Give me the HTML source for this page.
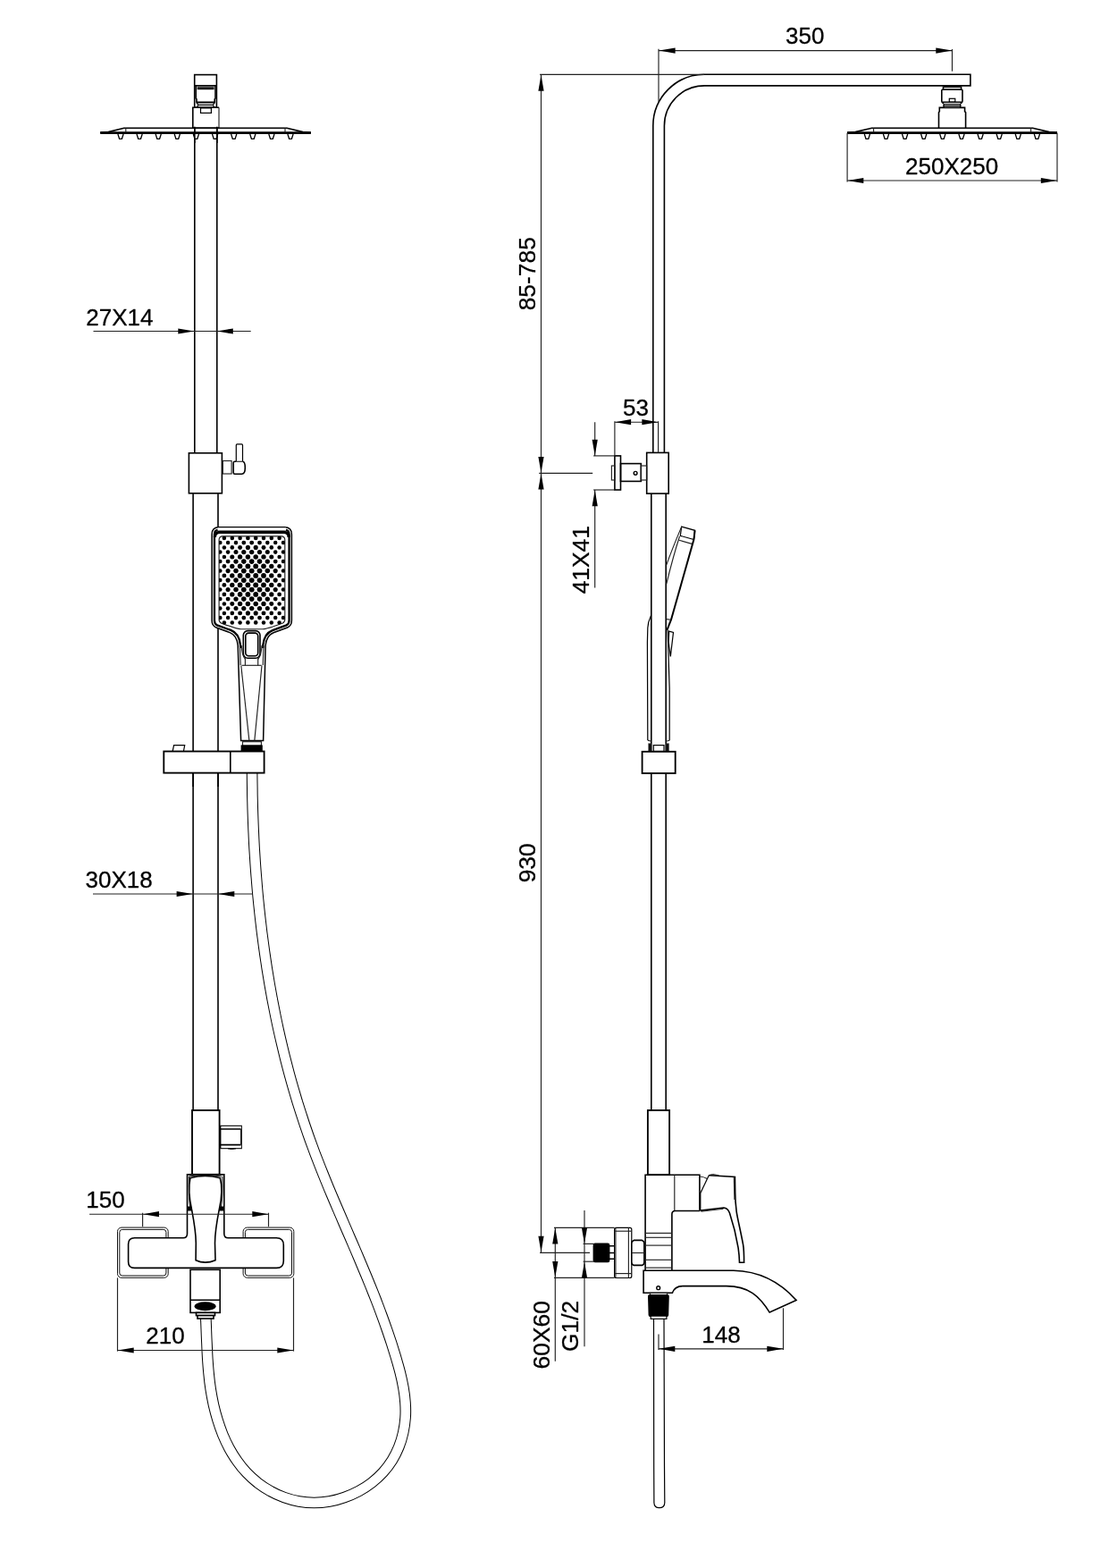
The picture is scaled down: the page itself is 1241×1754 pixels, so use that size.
<!DOCTYPE html>
<html><head><meta charset="utf-8"><title>Shower system dimensions</title>
<style>
html,body{margin:0;padding:0;background:#fff;}
body{width:1241px;height:1754px;overflow:hidden;}
svg{display:block;filter:grayscale(1);}
.k{fill:none;stroke:#000;stroke-width:1.6;}
.k2{fill:none;stroke:#000;stroke-width:2;}
.k3{fill:none;stroke:#000;stroke-width:1.85;}
.k4{fill:none;stroke:#000;stroke-width:2.6;}
.t{fill:none;stroke:#222;stroke-width:1.15;}
.w{fill:none;stroke:#111;stroke-width:1;}
.t2{fill:none;stroke:#000;stroke-width:1.2;}
.n{fill:#fff;stroke:#000;stroke-width:1.3;}
.a{fill:#000;stroke:none;}
text{font-family:"Liberation Sans",Arial,sans-serif;font-size:26px;fill:#000;stroke:#000;stroke-width:0.3px;stroke-linejoin:round;}
text.v{font-size:26.4px;}
</style></head><body>
<svg width="1241" height="1754" viewBox="0 0 1241 1754">
<defs><path id="hose" d="M282.1,864.1C282.1,869.8 282.2,875.4 282.3,881.0C282.3,886.7 282.4,892.3 282.6,897.9C282.7,903.6 282.9,909.2 283.1,914.9C283.3,920.5 283.5,926.2 283.8,931.9C284.0,937.5 284.3,943.2 284.6,948.8C285.0,954.5 285.3,960.2 285.7,965.8C286.1,971.5 286.5,977.1 287.0,982.8C287.4,988.5 287.9,994.1 288.4,999.8C288.9,1005.4 289.5,1011.1 290.1,1016.7C290.7,1022.4 291.3,1028.0 292.0,1033.7C292.6,1039.3 293.3,1045.0 294.1,1050.6C294.8,1056.2 295.6,1061.9 296.4,1067.5C297.2,1073.1 298.1,1078.7 298.9,1084.3C299.8,1090.0 300.8,1095.6 301.7,1101.2C302.7,1106.8 303.7,1112.3 304.7,1117.9C305.8,1123.5 306.9,1129.1 308.0,1134.6C309.1,1140.2 310.3,1145.7 311.5,1151.3C312.7,1156.8 314.0,1162.4 315.3,1167.9C316.6,1173.4 317.9,1178.9 319.3,1184.4C320.7,1189.9 322.1,1195.3 323.6,1200.8C325.1,1206.3 326.6,1211.7 328.2,1217.2C329.8,1222.6 331.4,1228.0 333.0,1233.4C334.7,1238.8 336.4,1244.2 338.2,1249.6C339.9,1255.0 341.7,1260.3 343.6,1265.7C345.4,1271.0 347.3,1276.3 349.3,1281.6C351.2,1286.9 353.2,1292.2 355.3,1297.5C357.3,1302.7 359.4,1308.0 361.5,1313.2C363.6,1318.5 365.8,1323.7 367.9,1328.9C370.1,1334.1 372.3,1339.3 374.5,1344.5C376.7,1349.7 379.0,1354.9 381.2,1360.1C383.4,1365.3 385.7,1370.5 387.9,1375.7C390.2,1380.9 392.4,1386.1 394.7,1391.3C396.9,1396.5 399.2,1401.8 401.4,1407.0C403.6,1412.2 405.8,1417.4 408.0,1422.7C410.2,1427.9 412.3,1433.1 414.5,1438.4C416.6,1443.7 418.7,1448.9 420.8,1454.2C422.8,1459.5 424.9,1464.9 426.8,1470.2C428.8,1475.5 430.7,1480.9 432.6,1486.3C434.5,1491.7 436.3,1497.1 438.1,1502.5C439.8,1507.9 441.5,1513.4 443.2,1518.9C444.8,1524.4 446.4,1529.9 447.8,1535.5C449.2,1541.0 450.4,1546.6 451.4,1552.2C452.4,1557.8 453.1,1563.4 453.5,1569.0C453.9,1574.6 454.0,1580.3 453.6,1585.9C453.2,1591.5 452.4,1597.1 451.2,1602.5C450.0,1608.0 448.4,1613.4 446.3,1618.6C444.2,1623.8 441.7,1628.8 438.8,1633.6C435.9,1638.3 432.5,1642.8 428.6,1647.0C424.8,1651.2 420.6,1655.0 416.0,1658.6C411.5,1662.1 406.6,1665.2 401.5,1668.0C396.4,1670.7 391.0,1673.1 385.5,1675.0C380.0,1677.0 374.4,1678.5 368.7,1679.5C363.0,1680.5 357.2,1681.0 351.5,1681.0C345.8,1681.0 340.1,1680.5 334.5,1679.5C328.9,1678.5 323.4,1677.0 318.1,1675.1C312.7,1673.1 307.5,1670.8 302.6,1668.0C297.6,1665.3 292.9,1662.1 288.4,1658.7C284.0,1655.2 279.8,1651.4 276.0,1647.4C272.1,1643.3 268.6,1639.0 265.4,1634.4C262.1,1629.8 259.2,1625.0 256.5,1620.1C253.8,1615.1 251.4,1609.9 249.2,1604.6C247.1,1599.3 245.2,1593.9 243.5,1588.4C241.8,1582.8 240.3,1577.2 239.0,1571.6C237.8,1565.9 236.7,1560.2 235.8,1554.5C234.9,1548.8 234.2,1543.1 233.7,1537.4C233.1,1531.8 232.7,1526.1 232.3,1520.4C232.0,1514.8 231.7,1509.1 231.5,1503.5C231.2,1497.9 231.0,1492.3 230.8,1486.8C230.6,1481.2 230.4,1475.7 230.1,1470.3" fill="none"/></defs>
<use href="#hose" stroke="#000" stroke-width="12.6"/>
<use href="#hose" stroke="#fff" stroke-width="10.6"/>
<line class="k" x1="217.8" y1="143" x2="217.8" y2="506"/>
<line class="k" x1="242.8" y1="143" x2="242.8" y2="506"/>
<line class="k" x1="216.1" y1="552" x2="216.1" y2="1242"/>
<line class="k" x1="244" y1="552" x2="244" y2="1242"/>
<rect class="k" x="217.7" y="83.6" width="24.7" height="36.6" style="fill:#fff"/>
<line class="k" x1="217.7" y1="95.8" x2="242.4" y2="95.8"/>
<line class="k2" x1="220.6" y1="99.2" x2="239.6" y2="99.2"/>
<line class="t" x1="220.6" y1="97.3" x2="239.6" y2="97.3"/>
<path class="k" d="M219.2,96 L219.2,110 L220,111 L220,114.5 M241,96 L241,110 L240.2,111 L240.2,114.5"/>
<line class="k2" x1="219.5" y1="114.5" x2="240.8" y2="114.5"/>
<line class="t2" x1="221.8" y1="117.4" x2="238.4" y2="117.4"/>
<path class="t2" d="M220,114.5 L221.8,117.4 L220.6,120.2 M240.2,114.5 L238.4,117.4 L239.6,120.2"/>
<path class="k" d="M245,143.3 L215.8,143.3 L215.8,120.2 L245,120.2" style="fill:#fff"/>
<line class="t" x1="245" y1="120.2" x2="245" y2="143.3"/>
<rect class="t2" x="224.5" y="120.9" width="11.9" height="5.5"/>
<path class="k" d="M112.2,148.3 L121.2,147.6 L138.8,143.3 L321,143.3 L338.9,147.6 L347.9,148.3"/>
<line x1="112.2" y1="148.7" x2="347.9" y2="148.7" stroke="#000" stroke-width="2.8"/>
<line class="t" x1="140.8" y1="143.3" x2="140.8" y2="148"/>
<line class="t" x1="319" y1="143.3" x2="319" y2="148"/>
<path class="n" d="M131.9,150 L133.6,155.3 L136.4,155.3 L138.1,150"/>
<path class="n" d="M153.0,150 L154.7,155.3 L157.5,155.3 L159.2,150"/>
<path class="n" d="M174.1,150 L175.8,155.3 L178.6,155.3 L180.3,150"/>
<path class="n" d="M195.2,150 L196.9,155.3 L199.7,155.3 L201.4,150"/>
<path class="n" d="M216.3,150 L218.0,155.3 L220.8,155.3 L222.5,150"/>
<path class="n" d="M237.5,150 L239.2,155.3 L242.0,155.3 L243.7,150"/>
<path class="n" d="M258.6,150 L260.3,155.3 L263.1,155.3 L264.8,150"/>
<path class="n" d="M279.7,150 L281.4,155.3 L284.2,155.3 L285.9,150"/>
<path class="n" d="M300.8,150 L302.5,155.3 L305.3,155.3 L307.0,150"/>
<path class="n" d="M321.9,150 L323.6,155.3 L326.4,155.3 L328.1,150"/>
<line class="k" x1="217.8" y1="141.8" x2="217.8" y2="160"/>
<line class="k" x1="242.8" y1="141.8" x2="242.8" y2="160"/>
<line class="t" x1="104.5" y1="370.5" x2="280.7" y2="370.5"/>
<polygon class="a" points="217.3,370.5 199.3,367.4 199.3,373.6"/>
<polygon class="a" points="242.8,370.5 260.8,367.4 260.8,373.6"/>
<text x="96.3" y="364.4" text-anchor="start">27X14</text>
<rect class="k" x="211.4" y="506.8" width="37.0" height="45.0" style="fill:#fff"/>
<rect class="t" x="249.4" y="515.5" width="9.7" height="14.5"/>
<path class="k" d="M264.3,516.3 L262.7,516.3 Q261.2,516.3 261.2,517.8 L261.2,528.8 Q261.2,530.3 262.7,530.3 L270.5,530.3 Q274.3,530.3 274.3,523.3 Q274.3,516.3 271.5,516.3"/>
<path class="t2" d="M264.3,516.3 L264.3,497.9 Q264.3,496.9 265.3,496.9 L270.5,496.9 Q271.5,496.9 271.5,497.9 L271.5,516.3"/>
<line class="t" x1="264.3" y1="516.3" x2="271.5" y2="516.3"/>
<line class="t" x1="104" y1="1000" x2="283" y2="1000"/>
<polygon class="a" points="215.6,1000 197.6,996.9 197.6,1003.1"/>
<polygon class="a" points="244.3,1000 262.3,996.9 262.3,1003.1"/>
<text x="95.6" y="992.6" text-anchor="start">30X18</text>
<defs><clipPath id="hc"><path d="M269.6,828.6 L266.2,722 C265.4,713.5 262.5,709.6 257.2,707.6 L242,702 Q237.1,700 237.1,694 L237.1,597.7 Q237.1,589.7 245.1,589.7 L318.4,589.7 Q326.4,589.7 326.4,597.7 L326.4,694 Q326.4,700 321.5,702 L306,707.8 C300.8,709.8 298,713.5 297.1,722 L294.6,828.6 Z"/></clipPath><clipPath id="hc2"><rect x="230" y="585" width="105" height="140"/></clipPath></defs>
<path d="M269.6,828.6 L266.2,722 C265.4,713.5 262.5,709.6 257.2,707.6 L242,702 Q237.1,700 237.1,694 L237.1,597.7 Q237.1,589.7 245.1,589.7 L318.4,589.7 Q326.4,589.7 326.4,597.7 L326.4,694 Q326.4,700 321.5,702 L306,707.8 C300.8,709.8 298,713.5 297.1,722 L294.6,828.6 Z" fill="#fff" stroke="none"/>
<g clip-path="url(#hc2)"><g clip-path="url(#hc)"><path d="M269.6,828.6 L266.2,722 C265.4,713.5 262.5,709.6 257.2,707.6 L242,702 Q237.1,700 237.1,694 L237.1,597.7 Q237.1,589.7 245.1,589.7 L318.4,589.7 Q326.4,589.7 326.4,597.7 L326.4,694 Q326.4,700 321.5,702 L306,707.8 C300.8,709.8 298,713.5 297.1,722 L294.6,828.6" fill="none" stroke="#000" stroke-width="8"/><path d="M269.6,828.6 L266.2,722 C265.4,713.5 262.5,709.6 257.2,707.6 L242,702 Q237.1,700 237.1,694 L237.1,597.7 Q237.1,589.7 245.1,589.7 L318.4,589.7 Q326.4,589.7 326.4,597.7 L326.4,694 Q326.4,700 321.5,702 L306,707.8 C300.8,709.8 298,713.5 297.1,722 L294.6,828.6" fill="none" stroke="#fff" stroke-width="3.4"/></g></g>
<path d="M269.6,828.6 L266.2,722 C265.4,713.5 262.5,709.6 257.2,707.6 L242,702 Q237.1,700 237.1,694 L237.1,597.7 Q237.1,589.7 245.1,589.7 L318.4,589.7 Q326.4,589.7 326.4,597.7 L326.4,694 Q326.4,700 321.5,702 L306,707.8 C300.8,709.8 298,713.5 297.1,722 L294.6,828.6 Z" fill="none" stroke="#000" stroke-width="1.5"/>
<path d="M243.5,592.1 L320,592.1" fill="none" stroke="#fff" stroke-width="3"/>
<path d="M240.4,601 Q240.4,595.4 246,595.4 L317.5,595.4 Q323.1,595.4 323.1,601" fill="none" stroke="#000" stroke-width="3.2"/>
<path class="t" d="M268.4,722 L269.2,744 M295,722 L294.2,744"/>
<path class="t" d="M245.1,604 Q245.1,599.9 249.2,599.9 L314.7,599.9 Q318.8,599.9 318.8,604 L318.8,693 Q318.8,696 316,697.2 C303,702 298,703.7 294,703.7 L269.5,703.7 C265.5,703.7 260.5,702 247.8,697.2 Q245.1,696 245.1,693 Z" style="fill:#fff"/>
<g clip-path="url(#pc)"><defs><clipPath id="pc"><path d="M245.1,604 Q245.1,599.9 249.2,599.9 L314.7,599.9 Q318.8,599.9 318.8,604 L318.8,693 Q318.8,696 316,697.2 L300,703 L264,703 L247.8,697.2 Q245.1,696 245.1,693 Z"/></clipPath></defs>
<circle cx="250.9" cy="601.9" r="2.25"/>
<circle cx="259.8" cy="601.9" r="2.25"/>
<circle cx="268.6" cy="601.9" r="2.25"/>
<circle cx="277.4" cy="601.9" r="2.32"/>
<circle cx="286.2" cy="601.9" r="2.32"/>
<circle cx="295.0" cy="601.9" r="2.25"/>
<circle cx="303.8" cy="601.9" r="2.25"/>
<circle cx="312.6" cy="601.9" r="2.25"/>
<circle cx="246.3" cy="607.1" r="2.25"/>
<circle cx="255.1" cy="607.1" r="2.25"/>
<circle cx="264.0" cy="607.1" r="2.29"/>
<circle cx="272.8" cy="607.1" r="2.41"/>
<circle cx="281.7" cy="607.1" r="2.46"/>
<circle cx="290.5" cy="607.1" r="2.42"/>
<circle cx="299.3" cy="607.1" r="2.29"/>
<circle cx="308.2" cy="607.1" r="2.25"/>
<circle cx="317.0" cy="607.1" r="2.25"/>
<circle cx="250.9" cy="612.4" r="2.25"/>
<circle cx="259.8" cy="612.4" r="2.31"/>
<circle cx="268.6" cy="612.4" r="2.48"/>
<circle cx="277.4" cy="612.4" r="2.56"/>
<circle cx="286.2" cy="612.4" r="2.56"/>
<circle cx="295.0" cy="612.4" r="2.48"/>
<circle cx="303.8" cy="612.4" r="2.31"/>
<circle cx="312.6" cy="612.4" r="2.25"/>
<circle cx="246.3" cy="617.6" r="2.25"/>
<circle cx="255.1" cy="617.6" r="2.29"/>
<circle cx="264.0" cy="617.6" r="2.50"/>
<circle cx="272.8" cy="617.6" r="2.63"/>
<circle cx="281.7" cy="617.6" r="2.67"/>
<circle cx="290.5" cy="617.6" r="2.63"/>
<circle cx="299.3" cy="617.6" r="2.51"/>
<circle cx="308.2" cy="617.6" r="2.30"/>
<circle cx="317.0" cy="617.6" r="2.25"/>
<circle cx="250.9" cy="622.9" r="2.25"/>
<circle cx="259.8" cy="622.9" r="2.50"/>
<circle cx="268.6" cy="622.9" r="2.66"/>
<circle cx="277.4" cy="622.9" r="2.75"/>
<circle cx="286.2" cy="622.9" r="2.75"/>
<circle cx="295.0" cy="622.9" r="2.66"/>
<circle cx="303.8" cy="622.9" r="2.50"/>
<circle cx="312.6" cy="622.9" r="2.25"/>
<circle cx="246.3" cy="628.1" r="2.25"/>
<circle cx="255.1" cy="628.1" r="2.44"/>
<circle cx="264.0" cy="628.1" r="2.66"/>
<circle cx="272.8" cy="628.1" r="2.78"/>
<circle cx="281.7" cy="628.1" r="2.83"/>
<circle cx="290.5" cy="628.1" r="2.79"/>
<circle cx="299.3" cy="628.1" r="2.66"/>
<circle cx="308.2" cy="628.1" r="2.45"/>
<circle cx="317.0" cy="628.1" r="2.25"/>
<circle cx="250.9" cy="633.4" r="2.37"/>
<circle cx="259.8" cy="633.4" r="2.62"/>
<circle cx="268.6" cy="633.4" r="2.79"/>
<circle cx="277.4" cy="633.4" r="2.87"/>
<circle cx="286.2" cy="633.4" r="2.87"/>
<circle cx="295.0" cy="633.4" r="2.79"/>
<circle cx="303.8" cy="633.4" r="2.62"/>
<circle cx="312.6" cy="633.4" r="2.37"/>
<circle cx="246.3" cy="638.6" r="2.25"/>
<circle cx="255.1" cy="638.6" r="2.54"/>
<circle cx="264.0" cy="638.6" r="2.75"/>
<circle cx="272.8" cy="638.6" r="2.88"/>
<circle cx="281.7" cy="638.6" r="2.92"/>
<circle cx="290.5" cy="638.6" r="2.88"/>
<circle cx="299.3" cy="638.6" r="2.75"/>
<circle cx="308.2" cy="638.6" r="2.54"/>
<circle cx="317.0" cy="638.6" r="2.25"/>
<circle cx="250.9" cy="643.9" r="2.43"/>
<circle cx="259.8" cy="643.9" r="2.68"/>
<circle cx="268.6" cy="643.9" r="2.85"/>
<circle cx="277.4" cy="643.9" r="2.93"/>
<circle cx="286.2" cy="643.9" r="2.93"/>
<circle cx="295.0" cy="643.9" r="2.85"/>
<circle cx="303.8" cy="643.9" r="2.68"/>
<circle cx="312.6" cy="643.9" r="2.43"/>
<circle cx="246.3" cy="649.1" r="2.27"/>
<circle cx="255.1" cy="649.1" r="2.57"/>
<circle cx="264.0" cy="649.1" r="2.78"/>
<circle cx="272.8" cy="649.1" r="2.91"/>
<circle cx="281.7" cy="649.1" r="2.95"/>
<circle cx="290.5" cy="649.1" r="2.91"/>
<circle cx="299.3" cy="649.1" r="2.78"/>
<circle cx="308.2" cy="649.1" r="2.57"/>
<circle cx="317.0" cy="649.1" r="2.28"/>
<circle cx="250.9" cy="654.4" r="2.43"/>
<circle cx="259.8" cy="654.4" r="2.68"/>
<circle cx="268.6" cy="654.4" r="2.85"/>
<circle cx="277.4" cy="654.4" r="2.93"/>
<circle cx="286.2" cy="654.4" r="2.93"/>
<circle cx="295.0" cy="654.4" r="2.85"/>
<circle cx="303.8" cy="654.4" r="2.68"/>
<circle cx="312.6" cy="654.4" r="2.43"/>
<circle cx="246.3" cy="659.6" r="2.25"/>
<circle cx="255.1" cy="659.6" r="2.53"/>
<circle cx="264.0" cy="659.6" r="2.75"/>
<circle cx="272.8" cy="659.6" r="2.87"/>
<circle cx="281.7" cy="659.6" r="2.92"/>
<circle cx="290.5" cy="659.6" r="2.88"/>
<circle cx="299.3" cy="659.6" r="2.75"/>
<circle cx="308.2" cy="659.6" r="2.54"/>
<circle cx="317.0" cy="659.6" r="2.25"/>
<circle cx="250.9" cy="664.9" r="2.37"/>
<circle cx="259.8" cy="664.9" r="2.62"/>
<circle cx="268.6" cy="664.9" r="2.78"/>
<circle cx="277.4" cy="664.9" r="2.87"/>
<circle cx="286.2" cy="664.9" r="2.87"/>
<circle cx="295.0" cy="664.9" r="2.79"/>
<circle cx="303.8" cy="664.9" r="2.62"/>
<circle cx="312.6" cy="664.9" r="2.37"/>
<circle cx="246.3" cy="670.1" r="2.25"/>
<circle cx="255.1" cy="670.1" r="2.44"/>
<circle cx="264.0" cy="670.1" r="2.65"/>
<circle cx="272.8" cy="670.1" r="2.78"/>
<circle cx="281.7" cy="670.1" r="2.82"/>
<circle cx="290.5" cy="670.1" r="2.78"/>
<circle cx="299.3" cy="670.1" r="2.66"/>
<circle cx="308.2" cy="670.1" r="2.45"/>
<circle cx="317.0" cy="670.1" r="2.25"/>
<circle cx="250.9" cy="675.4" r="2.25"/>
<circle cx="259.8" cy="675.4" r="2.49"/>
<circle cx="268.6" cy="675.4" r="2.66"/>
<circle cx="277.4" cy="675.4" r="2.74"/>
<circle cx="286.2" cy="675.4" r="2.74"/>
<circle cx="295.0" cy="675.4" r="2.66"/>
<circle cx="303.8" cy="675.4" r="2.49"/>
<circle cx="312.6" cy="675.4" r="2.25"/>
<circle cx="246.3" cy="680.6" r="2.25"/>
<circle cx="255.1" cy="680.6" r="2.29"/>
<circle cx="264.0" cy="680.6" r="2.50"/>
<circle cx="272.8" cy="680.6" r="2.63"/>
<circle cx="281.7" cy="680.6" r="2.67"/>
<circle cx="290.5" cy="680.6" r="2.63"/>
<circle cx="299.3" cy="680.6" r="2.50"/>
<circle cx="308.2" cy="680.6" r="2.29"/>
<circle cx="317.0" cy="680.6" r="2.25"/>
<circle cx="250.9" cy="685.9" r="2.25"/>
<circle cx="259.8" cy="685.9" r="2.31"/>
<circle cx="268.6" cy="685.9" r="2.47"/>
<circle cx="277.4" cy="685.9" r="2.56"/>
<circle cx="286.2" cy="685.9" r="2.56"/>
<circle cx="295.0" cy="685.9" r="2.47"/>
<circle cx="303.8" cy="685.9" r="2.31"/>
<circle cx="312.6" cy="685.9" r="2.25"/>
<circle cx="246.3" cy="691.1" r="2.25"/>
<circle cx="255.1" cy="691.1" r="2.25"/>
<circle cx="264.0" cy="691.1" r="2.28"/>
<circle cx="272.8" cy="691.1" r="2.41"/>
<circle cx="281.7" cy="691.1" r="2.45"/>
<circle cx="290.5" cy="691.1" r="2.41"/>
<circle cx="299.3" cy="691.1" r="2.29"/>
<circle cx="308.2" cy="691.1" r="2.25"/>
<circle cx="317.0" cy="691.1" r="2.25"/>
<circle cx="250.9" cy="696.4" r="2.25"/>
<circle cx="259.8" cy="696.4" r="2.25"/>
<circle cx="268.6" cy="696.4" r="2.25"/>
<circle cx="277.4" cy="696.4" r="2.31"/>
<circle cx="286.2" cy="696.4" r="2.31"/>
<circle cx="295.0" cy="696.4" r="2.25"/>
<circle cx="303.8" cy="696.4" r="2.25"/>
<circle cx="312.6" cy="696.4" r="2.25"/>
</g>
<rect class="k" x="272.3" y="705.6" width="18.7" height="30.6" rx="5" style="fill:#fff"/>
<rect class="k" x="274.8" y="708.1" width="13.9" height="25.6" rx="3.5"/>
<line class="t" x1="270.6" y1="744.3" x2="292.6" y2="744.3"/>
<line class="t" x1="274.4" y1="736.2" x2="274.4" y2="744.3"/>
<line class="t" x1="288.7" y1="736.2" x2="288.7" y2="744.3"/>
<path class="t" d="M270.2,722 C270.5,730 271.5,734 274.5,737.5 M293,722 C292.7,730 291.7,734 288.7,737.5"/>
<line class="t" x1="269.8" y1="744.5" x2="278.9" y2="828.6"/>
<line class="t" x1="293" y1="744.5" x2="284.8" y2="828.6"/>
<rect class="t" x="271.5" y="829.7" width="20.9" height="4.5" style="fill:#fff"/>
<rect class="k" x="270.4" y="834.2" width="22.6" height="6.2" style="fill:#000"/>
<rect class="k3" x="183.3" y="840.5" width="112.3" height="24.1" style="fill:#fff"/>
<line class="k" x1="257.8" y1="840.5" x2="257.8" y2="864.6"/>
<path class="t2" d="M193.1,840.5 L194.6,833.6 L206.7,833.6 L205.4,840.5"/>
<line class="k" x1="216.1" y1="864.6" x2="216.1" y2="880"/>
<line class="k" x1="244" y1="864.6" x2="244" y2="880"/>
<rect class="k3" x="215" y="1242" width="30.6" height="71.8" style="fill:#fff"/>
<path class="t" d="M246.2,1259.4 L270.4,1259.4 L270.4,1284.6 L246.2,1284.6"/>
<path class="k" d="M246.8,1263 L269.6,1263 M246.8,1280.6 L269.6,1280.6"/>
<line class="k" x1="246.6" y1="1259.4" x2="246.6" y2="1284.6"/>
<line class="t" x1="269.5" y1="1263" x2="269.5" y2="1280.6"/>
<path d="M255,1284.8 Q259,1286.2 264,1284.8" fill="none" stroke="#000" stroke-width="1"/>
<rect class="w" x="131.5" y="1373.1" width="56.7" height="56.2" rx="4.5"/>
<rect class="w" x="133.8" y="1375.4" width="52.1" height="51.6" rx="3"/>
<rect class="w" x="272.1" y="1373.1" width="56.7" height="56.2" rx="4.5"/>
<rect class="w" x="274.40000000000003" y="1375.4" width="52.1" height="51.6" rx="3"/>
<path class="k" d="M150.6,1384.7 L205,1384.7 Q209.5,1384.7 209.5,1380 L209.5,1313.8 L250.8,1313.8 L250.8,1380 Q250.8,1384.7 255.3,1384.7 L309.3,1384.7 Q317.3,1384.7 317.3,1392.7 L317.3,1410.4 Q317.3,1418.4 309.3,1418.4 L150.6,1418.4 Q143.6,1418.4 143.6,1411.4 L143.6,1391.7 Q143.6,1384.7 150.6,1384.7 Z" style="fill:#fff"/>
<path class="k" d="M212.9,1317.7 Q229.5,1313.3 246.3,1317.7 C248.6,1326 248.6,1338 245.3,1352.9 C242.5,1367 240.5,1380 240.5,1390.6 L241,1409.7 Q229.5,1414.6 219.1,1409.7 L219.3,1390.6 C219.3,1380 217.2,1367 214.5,1352.9 C211.2,1338 211.2,1326 212.9,1317.7 Z" style="fill:#fff"/>
<path class="t2" d="M211.6,1316 Q229.5,1313.4 247.6,1316"/>
<line class="k" x1="209.5" y1="1313.8" x2="250.8" y2="1313.8"/>
<path class="t" d="M211.4,1316 C210.9,1330 211.4,1343 213,1352 M248.8,1316 C249.3,1330 248.8,1343 247.2,1352"/>
<path class="a" d="M209.9,1354.4 L210,1349.5 L214,1349.5 L215.3,1354.4 Z M250.2,1354.4 L250.1,1349.5 L246,1349.5 L244.6,1354.4 Z"/>
<line class="t" x1="100.1" y1="1358.2" x2="300.5" y2="1358.2"/>
<line class="t" x1="159.6" y1="1356.7" x2="159.6" y2="1372.3"/>
<line class="t" x1="300.5" y1="1356.7" x2="300.5" y2="1372.3"/>
<polygon class="a" points="160,1358.2 178.0,1355.1 178.0,1361.3"/>
<polygon class="a" points="300.3,1358.2 282.3,1355.1 282.3,1361.3"/>
<text x="96.3" y="1350.8" text-anchor="start">150</text>
<rect class="k" x="213" y="1420.3" width="33.2" height="48.1" style="fill:#fff"/>
<line class="k" x1="213" y1="1454.2" x2="246.2" y2="1454.2"/>
<ellipse cx="229.6" cy="1461.3" rx="12" ry="5"/>
<rect class="k" x="219.5" y="1468.4" width="21.0" height="3.2" style="fill:#fff"/>
<rect class="k" x="221" y="1471.6" width="18" height="3.4" style="fill:#fff"/>
<line class="t" x1="131.5" y1="1429.4" x2="131.5" y2="1511.6"/>
<line class="t" x1="328.5" y1="1429.4" x2="328.5" y2="1511.6"/>
<line class="t" x1="131.5" y1="1510.5" x2="328.5" y2="1510.5"/>
<polygon class="a" points="131.7,1510.5 149.7,1507.4 149.7,1513.6"/>
<polygon class="a" points="328.3,1510.5 310.3,1507.4 310.3,1513.6"/>
<text x="163.3" y="1502.5" text-anchor="start">210</text>
<path class="t2" d="M731.5,1475 L731.7,1640 L731.9,1681 Q732.1,1686.7 737.8,1686.7 Q743.6,1686.7 743.8,1681 L743.5,1640 L743,1475" style="fill:#fff"/>
<path class="k" d="M730.8,506.4 L730.8,140.8 A57.5,57.5 0 0 1 788.3,83.3 L1085.9,83.3 L1085.9,95.9 L788.3,95.9 A44.9,44.9 0 0 0 743.4,140.8 L743.4,506.4"/>
<line class="k" x1="728.8" y1="552" x2="728.8" y2="1241.4"/>
<line class="k" x1="745.2" y1="552" x2="745.2" y2="1241.4"/>
<line class="t" x1="737" y1="54.8" x2="737" y2="113.7"/>
<line class="t" x1="1065.5" y1="55" x2="1065.5" y2="79.7"/>
<line class="t" x1="737" y1="56.6" x2="1065.5" y2="56.6"/>
<polygon class="a" points="737.6,56.6 755.6,53.5 755.6,59.7"/>
<polygon class="a" points="1065.3,56.6 1047.3,53.5 1047.3,59.7"/>
<text x="879" y="49.3" text-anchor="start">350</text>
<rect class="k" x="1055.5" y="97.2" width="20.1" height="3.0"/>
<rect class="k" x="1053.8" y="100.2" width="23.2" height="14.1" rx="1"/>
<rect class="t2" x="1062.3" y="110.3" width="6.5" height="4.0"/>
<path class="t2" d="M1053.8,114.3 L1056.3,116.5 L1074.5,116.5 L1077,114.3 M1056.3,116.5 L1055.8,118.4 L1075,118.4 L1074.5,116.5 M1055.8,118.4 L1056.3,120.4 M1075,118.4 L1074.5,120.4"/>
<path class="k" d="M1050.5,143.2 L1050.5,125.8 L1051.3,124.6 L1051.3,120.4 L1079.6,120.4 L1079.6,124.6 L1080.6,125.8 L1080.6,143.2"/>
<path class="k" d="M948.1,148.3 L957.1,147.6 L975.6,143.3 L1155.6,143.3 L1174,147.6 L1183,148.3"/>
<line x1="948.1" y1="148.7" x2="1183" y2="148.7" stroke="#000" stroke-width="2.8"/>
<line class="t" x1="977.6" y1="143.3" x2="977.6" y2="148"/>
<line class="t" x1="1153.6" y1="143.3" x2="1153.6" y2="148"/>
<path class="n" d="M967.3,150 L969.0,155.3 L971.8,155.3 L973.5,150"/>
<path class="n" d="M988.4,150 L990.1,155.3 L992.9,155.3 L994.6,150"/>
<path class="n" d="M1009.5,150 L1011.2,155.3 L1014.0,155.3 L1015.7,150"/>
<path class="n" d="M1030.6,150 L1032.3,155.3 L1035.1,155.3 L1036.8,150"/>
<path class="n" d="M1051.7,150 L1053.4,155.3 L1056.2,155.3 L1057.9,150"/>
<path class="n" d="M1072.9,150 L1074.6,155.3 L1077.4,155.3 L1079.1,150"/>
<path class="n" d="M1094.0,150 L1095.7,155.3 L1098.5,155.3 L1100.2,150"/>
<path class="n" d="M1115.1,150 L1116.8,155.3 L1119.6,155.3 L1121.3,150"/>
<path class="n" d="M1136.2,150 L1137.9,155.3 L1140.7,155.3 L1142.4,150"/>
<path class="n" d="M1157.3,150 L1159.0,155.3 L1161.8,155.3 L1163.5,150"/>
<line class="t" x1="948.1" y1="148.7" x2="948.1" y2="203.4"/>
<line class="t" x1="1183" y1="148.7" x2="1183" y2="203.4"/>
<line class="t" x1="948.1" y1="202" x2="1183" y2="202"/>
<polygon class="a" points="948.3,202 966.3,198.9 966.3,205.1"/>
<polygon class="a" points="1182.8,202 1164.8,198.9 1164.8,205.1"/>
<text x="1013" y="194.8" text-anchor="start">250X250</text>
<line class="t" x1="605.5" y1="83.3" x2="605.5" y2="1401.3"/>
<line class="t" x1="604.1" y1="83.3" x2="788" y2="83.3"/>
<line class="t" x1="603.2" y1="529.3" x2="663.2" y2="529.3"/>
<line class="t" x1="604.1" y1="1401.3" x2="660" y2="1401.3"/>
<polygon class="a" points="605.5,83.8 602.4,101.8 608.6,101.8"/>
<polygon class="a" points="605.5,529 602.4,511.0 608.6,511.0"/>
<polygon class="a" points="605.5,529.6 602.4,547.6 608.6,547.6"/>
<polygon class="a" points="605.5,1400.8 602.4,1382.8 608.6,1382.8"/>
<text class="v" x="598.7" y="306.2" text-anchor="middle" transform="rotate(-90 598.7 306.2)">85-785</text>
<text class="v" x="598.7" y="965.3" text-anchor="middle" transform="rotate(-90 598.7 965.3)">930</text>
<rect class="k" x="723.7" y="506.4" width="24.5" height="45.7" style="fill:#fff"/>
<rect class="k" x="687.9" y="509.9" width="6.6" height="38.1"/>
<rect class="t" x="684.4" y="521" width="3.5" height="16"/>
<rect class="k" x="694.5" y="518.6" width="22.8" height="19.8"/>
<rect class="t" x="717.3" y="521" width="6.4" height="16"/>
<circle cx="711.1" cy="529.3" r="1.9" fill="none" stroke="#000" stroke-width="1.4"/>
<line class="t" x1="687.9" y1="471.2" x2="687.9" y2="509.9"/>
<line class="t" x1="736.6" y1="471.2" x2="736.6" y2="506.4"/>
<line class="t" x1="687.9" y1="472.2" x2="736.6" y2="472.2"/>
<polygon class="a" points="688.1,472.2 706.1,469.1 706.1,475.3"/>
<polygon class="a" points="736.4,472.2 718.4,469.1 718.4,475.3"/>
<text x="697" y="465.4" text-anchor="start">53</text>
<line class="t" x1="665.7" y1="472.2" x2="665.7" y2="509.9"/>
<line class="t" x1="665.7" y1="548" x2="665.7" y2="657.5"/>
<line class="t" x1="664.1" y1="509.9" x2="687.9" y2="509.9"/>
<line class="t" x1="664.1" y1="548" x2="687.9" y2="548"/>
<polygon class="a" points="665.7,509.7 662.6,491.7 668.8,491.7"/>
<polygon class="a" points="665.7,548.2 662.6,566.2 668.8,566.2"/>
<text class="v" x="658.9" y="626.2" text-anchor="middle" transform="rotate(-90 658.9 626.2)">41X41</text>
<path class="t2" d="M762.7,589.1 L777.6,593.3 L776.4,603.6 L761.3,599.3 Z" style="fill:#fff"/>
<line class="t" x1="759.8" y1="604.2" x2="775" y2="608.6"/>
<path class="k2" d="M777.6,593.3 L776.4,603.6 L751,693.2 L746.4,704.8"/>
<path class="t" d="M762.7,589.1 C756,605 750,620 745.8,631.9"/>
<path class="t" d="M760.5,600 C754,620 749,640 745.8,653.1"/>
<path class="t" d="M745.6,692.6 L751,693.2"/>
<path class="t2" d="M748.7,706.1 L753.5,707.4 L750.3,734.5 L748.2,718 Z"/>
<path class="t2" d="M728.4,688.7 C726,694 725,698 724.8,702.2 L724.4,718.4 L724.8,828.1"/>
<path class="t2" d="M747.1,704.8 L749.2,770 L749.2,828.2"/>
<path class="t" d="M724.8,828.1 L728.9,829.2 M745.3,829.2 L749.2,828.2"/>
<rect class="t" x="726" y="832" width="2.4" height="8" style="fill:#000"/>
<rect class="t" x="745.7" y="832" width="2.4" height="8" style="fill:#000"/>
<rect class="t2" x="731.3" y="833.6" width="11.7" height="6.8"/>
<rect class="k3" x="718.6" y="840.8" width="37.1" height="24.2" style="fill:#fff"/>
<rect class="k3" x="724.9" y="1242" width="24.2" height="72.2" style="fill:#fff"/>
<path class="k" d="M722.1,1421.3 L722.1,1314.2 L782.9,1314.2 L782.9,1353.7"/>
<line class="t" x1="754.8" y1="1314.2" x2="754.8" y2="1354.5"/>
<path class="k" d="M783.3,1354.5 L755.6,1354.5 Q751.9,1354.5 751.9,1358.2 L751.9,1421.3"/>
<line class="t" x1="722.1" y1="1379.4" x2="751.9" y2="1379.4"/>
<line class="t" x1="722.1" y1="1384.3" x2="751.9" y2="1384.3"/>
<line class="t" x1="722.1" y1="1393.1" x2="751.9" y2="1393.1"/>
<line class="t" x1="722.1" y1="1409.3" x2="751.9" y2="1409.3"/>
<line class="t" x1="722.1" y1="1418.1" x2="751.9" y2="1418.1"/>
<path class="k" d="M784,1354.1 L809.7,1351 Q814.5,1351.3 816.5,1357 C819.5,1366 824,1383 826.1,1395.8 Q827.3,1404 827.5,1412.3 L832.6,1412.3 C832.6,1403 832.4,1397 831.6,1392.4 C829,1378 825,1362 824.1,1354.8 C823,1346 822.7,1340 822.7,1334.2 L822.4,1316.4 L793.3,1314.7" style="fill:#fff"/>
<path class="t2" d="M793.3,1314.7 L784,1334.2"/>
<path class="t" d="M783,1316 Q788,1316.5 791.2,1318.5"/>
<path class="t" d="M821.3,1317 L821.9,1342"/>
<path class="t2" d="M793.3,1314.7 Q799,1312.6 804.5,1315.2"/>
<path class="t" d="M784.5,1355.3 L809.5,1352.3"/>
<line class="k" x1="783.6" y1="1334" x2="783.6" y2="1354.4"/>
<path class="k" d="M720.1,1421.3 L820.9,1421.3 C845,1421.8 870,1431 891,1454.4 L861.2,1468.1 C850,1450 838,1438.6 812.8,1438.6 L764.5,1438.6 C758,1438.6 754,1441 752.4,1446.3 L720.1,1446.3 Z" style="fill:#fff"/>
<circle cx="736.7" cy="1440.7" r="1.9" fill="none" stroke="#000" stroke-width="1.4"/>
<rect class="t" x="727.5" y="1446.3" width="19.0" height="2.4" style="fill:#fff"/>
<path class="k" d="M725.8,1450 Q725.8,1448.7 727,1448.7 L746.8,1448.7 Q748,1448.7 748,1450 L747.4,1471 Q747.4,1472.1 746.2,1472.1 L727.6,1472.1 Q726.4,1472.1 726.4,1471 Z" style="fill:#000"/>
<rect class="t2" x="728.2" y="1472.1" width="17.7" height="3.2" style="fill:#fff"/>
<rect class="t2" x="687.6" y="1373.3" width="19.2" height="56.2" rx="2" style="fill:#fff"/>
<line class="t" x1="688.9" y1="1373.3" x2="688.9" y2="1429.5"/>
<line class="t" x1="703.4" y1="1373.3" x2="703.4" y2="1429.5"/>
<line class="t" x1="687.6" y1="1377.2" x2="706.8" y2="1377.2"/>
<line class="t" x1="687.6" y1="1424.6" x2="706.8" y2="1424.6"/>
<path class="k" d="M709.3,1387.4 L718.4,1387.4 Q720.9,1388.2 720.9,1391 L720.9,1412 Q720.9,1414.6 718.4,1415.4 L709.3,1415.4 Q706.8,1414.6 706.8,1412 L706.8,1391 Q706.8,1388.2 709.3,1387.4 Z" style="fill:#fff"/>
<line class="t" x1="706.8" y1="1401.5" x2="720.9" y2="1401.5"/>
<rect class="k" x="664.4" y="1391.4" width="17.2" height="20.0" rx="1.5" style="fill:#000"/>
<path class="k" d="M681.6,1393.8 L687.6,1393.8 M681.6,1401.5 L687.6,1401.5 M681.6,1408.3 L687.6,1408.3"/>
<line class="t" x1="621.3" y1="1373.3" x2="621.3" y2="1522.7"/>
<line class="t" x1="620" y1="1373.3" x2="687.6" y2="1373.3"/>
<line class="t" x1="620" y1="1429.3" x2="687.6" y2="1429.3"/>
<polygon class="a" points="621.3,1373.6 618.2,1391.6 624.4,1391.6"/>
<polygon class="a" points="621.3,1429.1 618.2,1411.1 624.4,1411.1"/>
<text class="v" x="615.1" y="1493.3" text-anchor="middle" transform="rotate(-90 615.1 1493.3)">60X60</text>
<line class="t" x1="654" y1="1354.1" x2="654" y2="1506.3"/>
<line class="t" x1="652.6" y1="1391.4" x2="664.4" y2="1391.4"/>
<line class="t" x1="652.6" y1="1411.2" x2="664.4" y2="1411.2"/>
<polygon class="a" points="654,1391.2 650.9,1373.2 657.1,1373.2"/>
<polygon class="a" points="654,1411.4 650.9,1429.4 657.1,1429.4"/>
<text class="v" x="647.1" y="1483.4" text-anchor="middle" transform="rotate(-90 647.1 1483.4)">G1/2</text>
<line class="t" x1="737" y1="1492.4" x2="737" y2="1510"/>
<line class="t" x1="876.5" y1="1463.3" x2="876.5" y2="1510"/>
<line class="t" x1="737" y1="1508.8" x2="876.5" y2="1508.8"/>
<polygon class="a" points="737.3,1508.8 755.3,1505.7 755.3,1511.9"/>
<polygon class="a" points="876.3,1508.8 858.3,1505.7 858.3,1511.9"/>
<text x="785.3" y="1501.6" text-anchor="start">148</text>
</svg>
</body></html>
